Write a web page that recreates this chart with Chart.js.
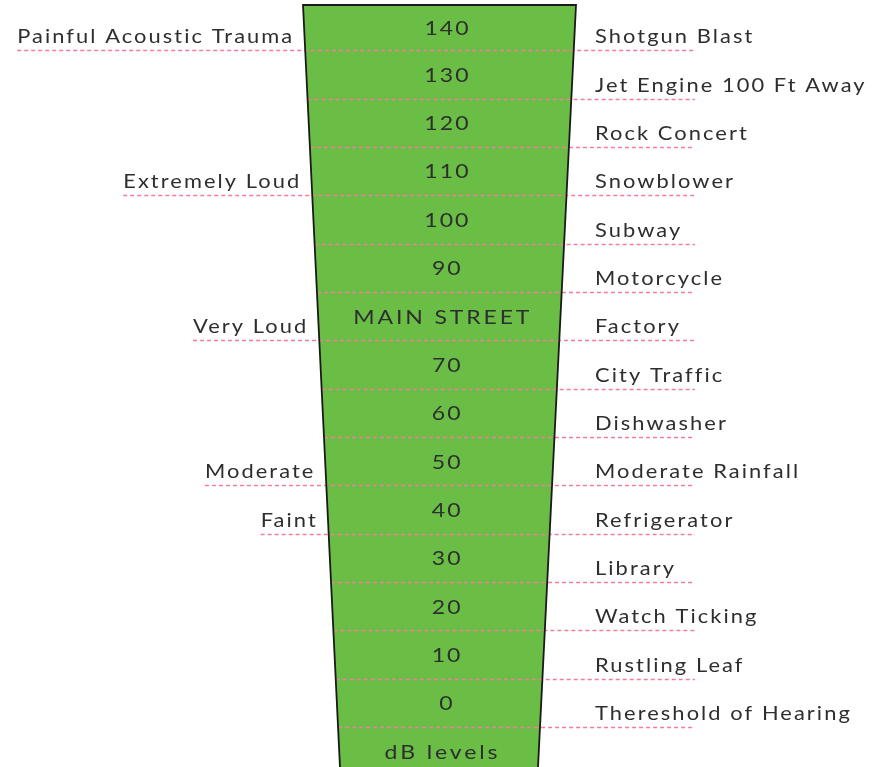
<!DOCTYPE html>
<html>
<head>
<meta charset="utf-8">
<script src="https://cdn.jsdelivr.net/npm/chart.js@4"></script>
<style>
  body { margin: 0; background: #fff; }
  #wrap { width: 881px; height: 767px; }
</style>
</head>
<body>
<div id="wrap"><canvas id="db-chart" width="881" height="767"></canvas></div>
<script>
// dB levels, top to bottom
const levels = [140, 130, 120, 110, 100, 90, 80, 70, 60, 50, 40, 30, 20, 10, 0];
const bandLabels = ['140', '130', '120', '110', '100', '90', 'MAIN STREET', '70', '60', '50', '40', '30', '20', '10', '0'];
const highlightLevel = 80;
const axisTitle = 'dB levels';

// sound sources on the right, one per level
const rightLabels = [
    'Shotgun Blast', 'Jet Engine 100 Ft Away', 'Rock Concert', 'Snowblower', 'Subway',
    'Motorcycle', 'Factory', 'City Traffic', 'Dishwasher', 'Moderate Rainfall',
    'Refrigerator', 'Library', 'Watch Ticking', 'Rustling Leaf', 'Thereshold of Hearing'
];

// loudness descriptions on the left
const leftLevels = [140, 110, 80, 50, 40];
const leftLabels = ['Painful Acoustic Trauma', 'Extremely Loud', 'Very Loud', 'Moderate', 'Faint'];

const GREEN = '#6abd45';
const PINK = '#ef6f8a';
const DASH = '#f0809a';
const INK = '#2e2e2e';
const FAMILY = 'Lato, "DejaVu Sans", sans-serif';
const STRETCH = 1.15;   // widen glyphs a bit, the original face is a wide geometric sans

// funnel shape: how much each side narrows from top to bottom
const taperLeft = 37;
const taperRight = 38;
const rightLineEnd = 695;
const rightTextX = 595;

function edges(area, y) {
    const t = (y - area.top) / (area.bottom - area.top);
    return [area.left + taperLeft * t, area.right - taperRight * t];
}

// draw stretched text, returns its drawn width
function drawText(ctx, txt, x, y, align, size, spacing) {
    ctx.save();
    ctx.font = size + 'px ' + FAMILY;
    ctx.letterSpacing = spacing + 'px';
    ctx.textBaseline = 'middle';
    ctx.textAlign = 'left';
    let w = ctx.measureText(txt).width - spacing;
    const drawn = w * STRETCH;
    let x0 = x;
    if (align === 'right') x0 = x - drawn;
    if (align === 'center') x0 = x - drawn / 2;
    ctx.translate(x0, y);
    ctx.scale(STRETCH, 1);
    ctx.fillStyle = INK;
    ctx.fillText(txt, 0, 0);
    ctx.restore();
    return drawn;
}

const funnelPlugin = {
    id: 'funnel',
    beforeDatasetsDraw(chart) {
        const {ctx, chartArea: a} = chart;
        ctx.save();
        ctx.beginPath();
        ctx.moveTo(a.left, a.top);
        ctx.lineTo(a.right, a.top);
        ctx.lineTo(a.right - taperRight, a.bottom);
        ctx.lineTo(a.left + taperLeft, a.bottom);
        ctx.closePath();
        ctx.clip();
    },
    afterDatasetsDraw(chart) {
        const {ctx, chartArea: a, scales: {y}} = chart;
        ctx.restore();
        ctx.save();

        // dashed level lines + labels
        levels.forEach((v, i) => {
            const py = Math.round(y.getPixelForValue(v)) + 0.5;
            const [l] = edges(a, py);
            let start = l;
            const li = leftLevels.indexOf(v);
            if (li >= 0) {
                const w = drawText(ctx, leftLabels[li], l - 13, py - 14, 'right', 19, 1.8);
                start = l - 13 - w;
            }
            drawText(ctx, rightLabels[i], rightTextX, py - 14, 'left', 19, 1.8);

            ctx.beginPath();
            ctx.setLineDash([4, 3]);
            ctx.strokeStyle = DASH;
            ctx.lineWidth = 1.5;
            ctx.moveTo(start, py);
            ctx.lineTo(rightLineEnd, py);
            ctx.stroke();
        });

        // text inside each band (top band clamped to the funnel top)
        const bands = levels.map((v, i) => [v, bandLabels[i]]);
        bands.push([-10, axisTitle]);
        bands.forEach(([v, txt]) => {
            const top = Math.max(a.top, y.getPixelForValue(v + 10));
            const bot = y.getPixelForValue(v);
            const cy = (top + bot) / 2;
            const [l, r] = edges(a, cy);
            const isNum = /^\d+$/.test(txt);
            drawText(ctx, txt, (l + r) / 2 + (isNum ? 7 : 2), cy + 1, 'center', 20, isNum ? 1.8 : 2.5);
        });

        // funnel outline
        ctx.setLineDash([]);
        ctx.strokeStyle = '#1a1a1a';
        ctx.lineWidth = 1.8;
        ctx.beginPath();
        ctx.moveTo(a.left + taperLeft, a.bottom);
        ctx.lineTo(a.left, a.top);
        ctx.lineTo(a.right, a.top);
        ctx.lineTo(a.right - taperRight, a.bottom);
        ctx.stroke();
        ctx.restore();
    }
};

const ctx = document.getElementById('db-chart').getContext('2d');
new Chart(ctx, {
    type: 'bar',
    data: {
        labels: ['dB'],
        datasets: [
            {
                label: 'range',
                data: [[Math.min(...levels) - 10, Math.max(...levels) + 10]],
                backgroundColor: GREEN,
                grouped: false,
                barPercentage: 1,
                categoryPercentage: 1,
                borderWidth: 0
            },
            {
                label: 'highlight',
                data: [[highlightLevel, highlightLevel + 10]],
                backgroundColor: PINK,
                grouped: false,
                barPercentage: 1,
                categoryPercentage: 1,
                borderWidth: 0
            }
        ]
    },
    options: {
        responsive: false,
        animation: false,
        layout: { padding: { left: 303, right: 305, top: 5, bottom: 0 } },
        plugins: { legend: { display: false }, tooltip: { enabled: false } },
        scales: {
            x: { display: false },
            y: { display: false, min: -8.26, max: 149.34 }
        }
    },
    plugins: [funnelPlugin]
});
</script>
</body>
</html>
